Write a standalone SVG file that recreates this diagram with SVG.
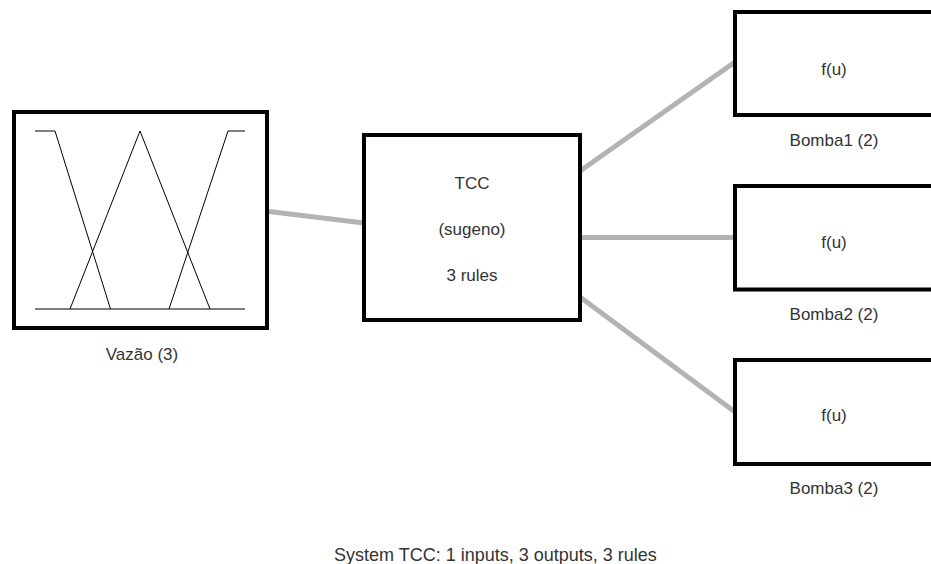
<svg xmlns="http://www.w3.org/2000/svg" width="931" height="564" viewBox="0 0 931 564">
<style>
.box{fill:#fff;stroke:#000;stroke-width:4}
.mf{fill:none;stroke:#000;stroke-width:1}
.conn{stroke:#b3b3b3;stroke-width:5;fill:none}
text{font-family:"Liberation Sans",Arial,sans-serif;font-size:17px;fill:#333;text-anchor:middle}
</style>
<rect width="931" height="564" fill="#fff"/>
<g id="connectors">
<line class="conn" x1="269" y1="211.5" x2="364" y2="223"/>
<line class="conn" x1="580" y1="171" x2="735" y2="62"/>
<line class="conn" x1="580" y1="237.5" x2="735" y2="237.5"/>
<line class="conn" x1="580" y1="297" x2="735" y2="412"/>
</g>
<g id="vazao">
<rect class="box" x="14" y="112" width="253" height="216"/>
<polyline class="mf" points="35,131 55,131 110.5,309"/>
<polyline class="mf" points="70,309 140,131 210,309"/>
<polyline class="mf" points="169,309 228,131 245,131"/>
<line class="mf" x1="35" y1="309" x2="245" y2="309"/>
<text x="142" y="360">Vazão (3)</text>
</g>
<g id="tcc">
<rect class="box" x="364" y="135" width="216" height="185"/>
<text x="472" y="189">TCC</text>
<text x="472" y="235">(sugeno)</text>
<text x="472" y="281">3 rules</text>
</g>
<g id="bomba1">
<rect class="box" x="735" y="12" width="220" height="103"/>
<text x="834" y="75">f(u)</text>
<text x="834" y="146">Bomba1 (2)</text>
</g>
<g id="bomba2">
<rect class="box" x="735" y="186" width="220" height="103.5"/>
<text x="834" y="248">f(u)</text>
<text x="834" y="320">Bomba2 (2)</text>
</g>
<g id="bomba3">
<rect class="box" x="735" y="360" width="220" height="104"/>
<text x="834" y="421">f(u)</text>
<text x="834" y="494">Bomba3 (2)</text>
</g>
<text x="334" y="561" style="text-anchor:start;font-size:18px">System TCC: 1 inputs, 3 outputs, 3 rules</text>
</svg>
